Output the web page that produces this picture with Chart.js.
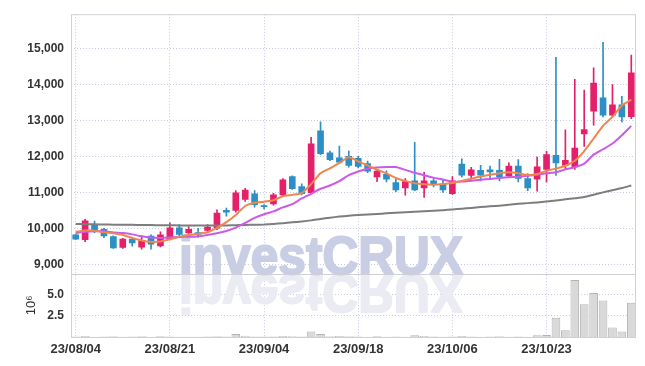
<!doctype html>
<html>
<head>
<meta charset="UTF-8">
<title>investCRUX candle chart</title>
<style>
  html, body { margin: 0; padding: 0; background: #fff; }
</style>
</head>
<body>
<canvas id="myCanvas" width="645" height="366"></canvas>
<script src="https://cdn.jsdelivr.net/npm/chart.js@4.4.0/dist/chart.umd.min.js"></script>
<script>
// trading days
var dates = ['23/08/04','23/08/07','23/08/08','23/08/09','23/08/10','23/08/11','23/08/14','23/08/16','23/08/17','23/08/18',
  '23/08/21','23/08/22','23/08/23','23/08/24','23/08/25','23/08/28','23/08/29','23/08/30','23/08/31','23/09/01',
  '23/09/04','23/09/05','23/09/06','23/09/07','23/09/08','23/09/11','23/09/12','23/09/13','23/09/14','23/09/15',
  '23/09/18','23/09/19','23/09/20','23/09/21','23/09/22','23/09/25','23/09/26','23/09/27','23/10/04','23/10/05',
  '23/10/06','23/10/10','23/10/11','23/10/12','23/10/13','23/10/16','23/10/17','23/10/18','23/10/19','23/10/20',
  '23/10/23','23/10/24','23/10/25','23/10/26','23/10/27','23/10/30','23/10/31','23/11/01','23/11/02','23/11/03'];

var openP = [9820,9685,10080,9970,9770,9465,9700,9475,9785,9510,
  9710,10010,9870,9880,9940,10000,10500,10500,10800,10960,
  10630,10680,10930,11440,11160,10990,12710,12100,11960,12000,
  11950,11800,11430,11500,11270,11120,11320,11120,11320,11230,
  10960,11790,11470,11610,11630,11610,11460,11730,11380,11370,
  11640,12030,11750,11710,12630,13260,13630,13150,13440,13110];
var highP = [9830,10250,10200,10000,9790,9720,9710,9790,9820,9900,
  10150,10100,10050,10000,10100,10510,10560,11050,11110,11050,
  10660,10970,11380,11460,11240,12530,12960,12150,12290,12150,
  12000,11870,11620,11600,11380,11380,12390,11560,11380,11350,
  11440,11930,11700,11750,11730,11920,11820,11910,11520,11980,
  12140,14760,12740,14150,13850,14470,15180,14000,13670,14820];
var lowP = [9690,9630,9880,9740,9440,9440,9500,9420,9420,9480,
  9690,9750,9860,9750,9880,9960,10340,10450,10750,10590,
  10540,10640,10900,11080,10930,10970,12050,11880,11800,11700,
  11680,11550,11300,11290,11020,10920,11050,10860,11150,11000,
  10940,11430,11320,11320,11380,11320,11430,11290,11050,11030,
  11290,11470,11640,11640,12280,12870,13100,13100,12960,13050];
var closeP = [9700,10205,9955,9790,9450,9700,9590,9650,9555,9820,
  10010,9830,9970,9830,10030,10420,10450,10990,11060,10660,
  10600,10930,11350,11100,10960,12350,12080,11910,11840,11750,
  11720,11590,11590,11370,11070,11300,11070,11320,11230,11070,
  11320,11480,11630,11480,11570,11430,11730,11390,11120,11710,
  12050,11820,11890,12230,12750,14040,13150,13440,13100,14330];

// moving averages
var ma5 = [9900,9940,9930,9890,9860,9815,9730,9660,9620,9630,
  9690,9760,9810,9850,9890,10010,10170,10370,10620,10710,
  10740,10780,10890,10930,10980,11230,11530,11670,11820,11975,
  11860,11750,11630,11530,11400,11320,11255,11225,11215,11230,
  11260,11320,11380,11440,11490,11535,11560,11530,11480,11510,
  11600,11660,11740,11880,12150,12500,12850,13100,13420,13580];
var ma20 = [9870,9900,9915,9915,9885,9865,9830,9775,9740,9730,
  9740,9760,9765,9770,9810,9860,9925,10020,10150,10290,
  10390,10470,10580,10670,10830,10960,11100,11190,11310,11480,
  11580,11660,11690,11705,11705,11625,11545,11475,11410,11355,
  11295,11300,11325,11350,11375,11400,11420,11430,11460,11490,
  11530,11560,11640,11700,11800,12050,12200,12360,12590,12850];
var ma120 = [10120,10115,10110,10105,10100,10098,10095,10090,10088,10085,
  10082,10080,10078,10076,10075,10075,10078,10085,10092,10098,
  10105,10120,10140,10165,10190,10220,10260,10295,10325,10350,
  10370,10385,10400,10415,10430,10445,10460,10475,10490,10505,
  10525,10545,10565,10590,10610,10630,10655,10680,10700,10720,
  10745,10775,10805,10835,10870,10935,11000,11060,11120,11190];

// volume, millions
var volume = [0.05,0.12,0.04,0.05,0.1,0.04,0.05,0.1,0.04,0.08,
  0.05,0.04,0.03,0.04,0.05,0.1,0.06,0.35,0.15,0.06,
  0.05,0.06,0.12,0.1,0.05,0.65,0.35,0.1,0.12,0.1,
  0.05,0.04,0.08,0.04,0.05,0.04,0.2,0.12,0.05,0.04,
  0.05,0.12,0.05,0.04,0.05,0.1,0.04,0.05,0.04,0.2,
  0.23,2.24,0.8,6.67,3.83,5.15,4.28,1.1,0.65,4.01];

var priceTicks = [9000,10000,11000,12000,13000,14000,15000];
var volTicks = [2.5,5.0];

var UP = '#e5206a', DOWN = '#2d8fc6';
var gridCol = '#c9cadf';
var tickFont = { family: "'Liberation Sans',Arial,sans-serif", size: 12, weight: 'bold' };
var dateFont = { family: "'Liberation Sans',Arial,sans-serif", size: 13, weight: 'bold' };

function candleColor(i) { return closeP[i] >= openP[i] ? UP : DOWN; }
var colors = dates.map(function(d, i){ return candleColor(i); });

// watermark + frame
var deco = {
  id: 'deco',
  beforeDatasetsDraw: function(chart) {
    var c = chart.ctx;
    var sep = chart.scales.y.bottom;
    c.save();
    c.font = "bold 54px 'Liberation Sans','DejaVu Sans',sans-serif";
    c.textBaseline = 'alphabetic';
    c.textAlign = 'left';
    c.lineJoin = 'round';
    c.lineWidth = 2;
    // reflection
    c.save();
    c.translate(0, sep * 2 + 1);
    c.scale(1, -1);
    c.fillStyle = c.strokeStyle = '#eaebf3';
    c.fillText('investCRUX', 179, sep, 284);
    c.strokeText('investCRUX', 179, sep, 284);
    c.restore();
    c.fillStyle = c.strokeStyle = '#c9cee5';
    c.fillText('investCRUX', 179, sep, 284);
    c.strokeText('investCRUX', 179, sep, 284);
    c.restore();
  },
  afterDraw: function(chart) {
    var c = chart.ctx, a = chart.chartArea;
    var sep = chart.scales.y.bottom;
    c.save();
    c.strokeStyle = '#cfcfd6';
    c.lineWidth = 1;
    c.strokeRect(a.left + 0.5, a.top + 0.5, a.right - a.left - 1, a.bottom - a.top);
    c.beginPath();
    c.moveTo(a.left, Math.round(sep) + 0.5);
    c.lineTo(a.right, Math.round(sep) + 0.5);
    c.stroke();
    c.restore();
  }
};

var ctx = document.getElementById('myCanvas').getContext('2d');
var myChart = new Chart(ctx, {
  type: 'bar',
  data: {
    labels: dates,
    datasets: [
      { type: 'line', label: 'MA5', data: ma5, yAxisID: 'y', borderColor: '#ef8650', borderWidth: 2,
        pointRadius: 0, tension: 0.2, order: 0 },
      { type: 'line', label: 'MA20', data: ma20, yAxisID: 'y', borderColor: '#cb5ae8', borderWidth: 2,
        pointRadius: 0, tension: 0.2, order: 0 },
      { type: 'line', label: 'MA120', data: ma120, yAxisID: 'y', borderColor: '#7d7d7d', borderWidth: 2,
        pointRadius: 0, tension: 0.2, order: 0 },
      { label: 'body', data: openP.map(function(o, i){ return [o, closeP[i]]; }), yAxisID: 'y',
        backgroundColor: colors, barThickness: 6, grouped: false, borderWidth: 0, order: 1 },
      { label: 'wick', data: lowP.map(function(l, i){ return [l, highP[i]]; }), yAxisID: 'y',
        backgroundColor: colors, barThickness: 1, grouped: false, borderWidth: 0, order: 2 },
      { label: 'volume', data: volume, yAxisID: 'yVol', backgroundColor: '#d9d9d9', borderColor: '#b3b3b3',
        borderWidth: 1, barPercentage: 0.92, categoryPercentage: 1, grouped: false, order: 3 }
    ]
  },
  options: {
    responsive: false,
    animation: false,
    devicePixelRatio: 1,
    layout: { padding: { left: 0, right: 9, top: 9, bottom: 0 } },
    plugins: { legend: { display: false }, tooltip: { enabled: false } },
    scales: {
      x: {
        offset: true,
        grid: { offset: false, drawTicks: false,
          color: function(c){ return c.index % 10 === 0 ? gridCol : 'rgba(0,0,0,0)'; } },
        border: { display: false, dash: [1, 2] },
        ticks: { autoSkip: false, maxRotation: 0, padding: 5, color: '#333', font: dateFont,
          callback: function(v, i){ return i % 10 === 0 ? dates[i] : ''; } },
        afterFit: function(s){ s.height = 29; }
      },
      yVol: {
        position: 'left', stack: 'panel', stackWeight: 1,
        min: 0, max: 7.4,
        afterBuildTicks: function(s){ s.ticks = volTicks.map(function(v){ return { value: v }; }); },
        grid: { color: gridCol, drawTicks: false },
        border: { display: false, dash: [1, 2] },
        ticks: { padding: 7, color: '#333', font: tickFont,
          callback: function(v){ return Number(v).toFixed(1); } },
        title: { display: true, text: '10\u2076', color: '#333', padding: { top: 24, bottom: 0 },
          font: { family: "'Liberation Sans',Arial,sans-serif", size: 13 } },
        afterFit: function(s){ s.width = 71; }
      },
      y: {
        position: 'left', stack: 'panel', stackWeight: 4.1,
        min: 8735, max: 15960,
        afterBuildTicks: function(s){ s.ticks = priceTicks.map(function(v){ return { value: v }; }); },
        grid: { color: gridCol, drawTicks: false },
        border: { display: false, dash: [1, 2] },
        ticks: { padding: 7, color: '#333', font: tickFont,
          callback: function(v){ return v.toLocaleString('en-US'); } },
        afterFit: function(s){ s.width = 71; }
      }
    }
  },
  plugins: [deco]
});
</script>
</body>
</html>
